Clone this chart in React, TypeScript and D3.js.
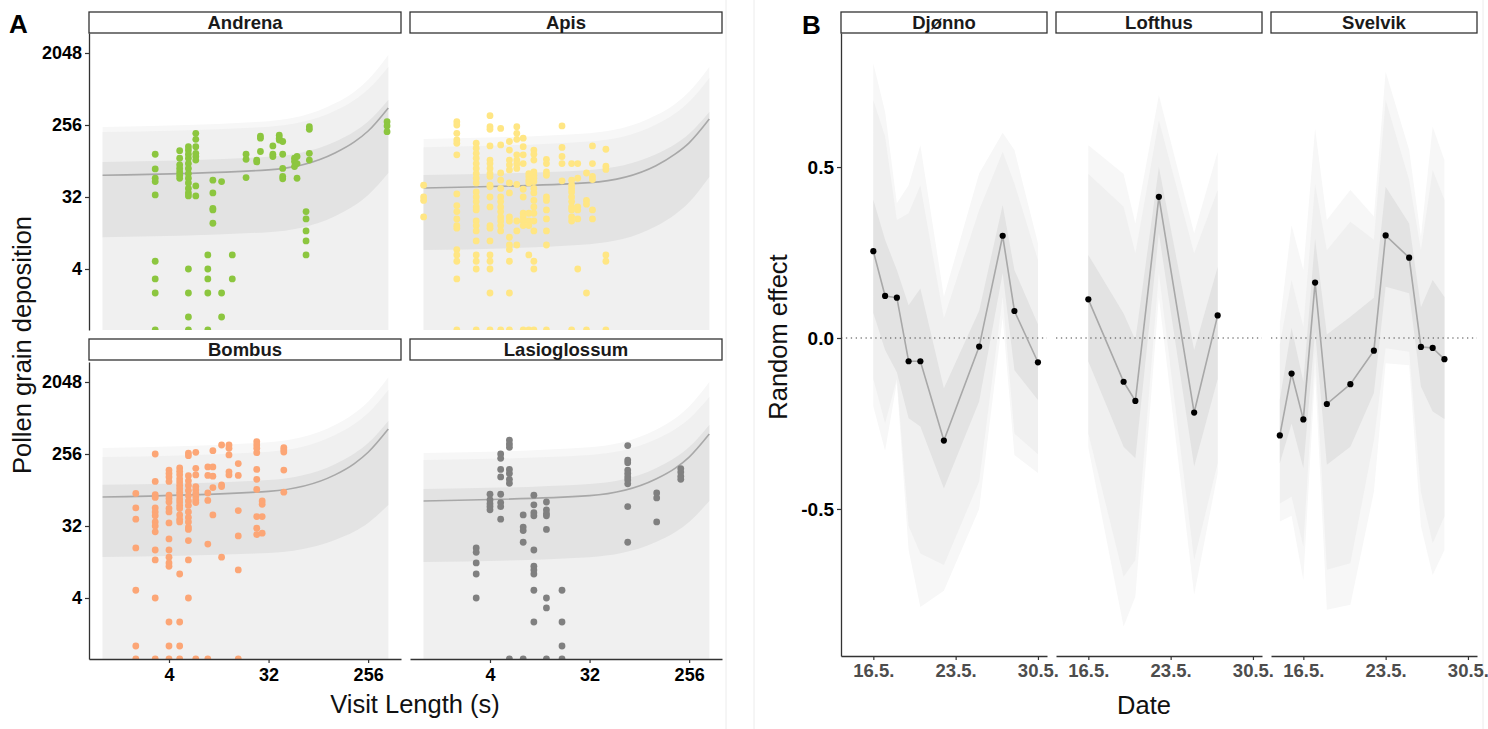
import React, { useEffect, useRef } from 'react';
import * as d3 from 'd3';

const WIDTH = 1488;
const HEIGHT = 729;
const FONT = '"Liberation Sans", Arial, Helvetica, sans-serif';

// ---------- Panel A: pollen deposition vs visit length ----------
const genera = ['Andrena', 'Apis', 'Bombus', 'Lasioglossum'];
const generaColors = ['#8cc63f', '#ffe684', '#fca676', '#808080'];

// [visit length (s), pollen grains of each visit]; 0 = no grains (sits on panel floor)
const andrenaPoints: [number, number[]][] = [
  [3, [110, 72, 55, 50, 34, 5, 3, 2, 0]],
  [5, [122, 98, 81, 73, 66, 60, 55]],
  [6, [137, 124, 110, 98, 84, 73, 63, 55, 48, 41, 36, 33, 4, 2, 1, 0]],
  [7, [201, 169, 137, 113, 103, 93, 44, 33]],
  [9, [6, 4, 3, 2, 0]],
  [10, [52, 36, 23, 22, 15]],
  [12, [50, 2, 1]],
  [15, [6, 3]],
  [20, [110, 95, 56]],
  [25, [93, 88]],
  [27, [186, 175, 119]],
  [35, [140, 110, 103]],
  [40, [191, 175, 166]],
  [43, [159, 110, 73, 58, 54]],
  [55, [98, 89, 77]],
  [58, [103, 84, 55]],
  [70, [21, 17, 12, 9, 6]],
  [75, [244, 226, 113, 93]],
  [380, [282, 249, 211]],
];
const apisPoints: [number, number[]][] = [
  [1, [45, 32, 29, 18]],
  [2, [282, 256, 201, 166, 151, 108, 35, 25, 21, 17, 14, 13, 7, 6, 5, 3, 0]],
  [3, [151, 131, 113, 98, 84, 73, 63, 55, 48, 37, 32, 28, 24, 22, 16, 14, 12, 9, 6, 5, 4, 0]],
  [4, [335, 244, 226, 140, 93, 84, 73, 63, 58, 45, 43, 32, 24, 14, 13, 9, 6, 5, 4, 2, 0]],
  [5, [232, 144, 64, 52, 41, 32, 28, 24, 21, 18, 16, 14, 12, 0]],
  [6, [159, 124, 93, 81, 70, 48, 36, 18, 16, 10, 8, 7, 5, 2, 0]],
  [7, [244, 201, 169, 108, 93, 83, 73, 46, 16, 12, 8]],
  [8, [175, 137, 108, 84, 40, 32, 20, 18, 16, 14, 0]],
  [9, [63, 58, 52, 48, 20, 16, 14, 6, 0]],
  [10, [124, 110, 93, 66, 60, 55, 50, 41, 36, 29, 24, 20, 16, 12, 5, 4, 0]],
  [13, [95, 84, 66, 60, 32, 29, 22, 17, 12, 8, 0]],
  [18, [249, 134, 103, 84, 51]],
  [22, [84, 52, 45, 41, 37, 32, 28, 24, 22, 18, 16, 0]],
  [25, [84, 55, 24, 22, 17, 4]],
  [30, [64, 29, 26, 2, 0]],
  [34, [140, 84, 58, 53, 22, 17]],
  [45, [127, 78, 71, 6, 5, 0]],
];
const bombusPoints: [number, number[]][] = [
  [2, [82, 54, 39, 17, 5, 1, 0]],
  [3, [256, 116, 79, 73, 54, 48, 43, 36, 32, 27, 16, 12, 4, 0]],
  [4, [161, 146, 132, 116, 78, 71, 64, 53, 48, 35, 22, 16, 13, 11, 10, 2, 1, 0]],
  [5, [171, 155, 141, 125, 114, 103, 94, 85, 78, 70, 64, 58, 53, 44, 39, 36, 8, 2, 1, 0]],
  [6, [263, 244, 137, 118, 103, 89, 77, 66, 58, 48, 41, 36, 31, 29, 21, 12, 4]],
  [7, [269, 169, 140, 100, 91, 82, 75, 68, 63, 0]],
  [9, [176, 138, 83, 67, 19, 0]],
  [10, [282, 176, 135, 97, 44]],
  [12, [332, 105, 100, 13]],
  [14, [332, 302, 249, 153, 140]],
  [17, [194, 138, 50, 24, 9, 0]],
  [25, [365, 332, 302, 266, 164, 123, 92, 42, 30, 25]],
  [28, [66, 60, 42, 26]],
  [44, [307, 288, 271, 161, 85]],
];
const lasioglossumPoints: [number, number[]][] = [
  [3, [17, 15, 11, 8, 4]],
  [4, [80, 68, 61, 56, 51]],
  [5, [256, 226, 164, 132, 80, 63, 56, 39]],
  [6, [383, 342, 311, 164, 146, 123, 110, 0]],
  [8, [44, 31, 28, 20, 0]],
  [10, [78, 59, 47, 43, 16, 10, 9, 8, 5, 2]],
  [13, [64, 51, 46, 43, 29, 4, 3, 0]],
  [18, [5, 2, 1, 0]],
  [71, [326, 215, 199, 161, 146, 132, 121, 108, 56, 20]],
  [130, [83, 72, 36]],
  [215, [168, 152, 135, 123]],
];

// model fit + interval ribbons, read at these visit lengths
const fitSeconds = [1, 32, 128, 192, 256, 390];
const ribbonFloor = 0.3; // outer ribbons run below the panel floor

const andrenaFit = [60, 70, 114, 157, 215, 419];
const andrenaInnerLo = [10, 11.6, 18.4, 25, 34, 64];
const andrenaInnerHi = [88, 102, 158, 212, 284, 526];
const andrenaMidHi = [209, 244, 385, 526, 719, 1370];
const andrenaOuterHi = [242, 286, 478, 671, 949, 1937];

const apisFit = [41.5, 48.5, 79, 111, 153, 304];
const apisInnerLo = [6.9, 8.2, 13.7, 19.4, 27.5, 57];
const apisInnerHi = [60.5, 70, 110, 148, 199, 372];
const apisMidHi = [135, 159, 260, 360, 501, 996];
const apisOuterHi = [171, 202, 338, 474, 671, 1370];

const bombusFit = [74, 87, 140, 194, 269, 526];
const bombusInnerLo = [13.1, 14.7, 21.4, 27.3, 35, 58.7];
const bombusInnerHi = [105, 121, 191, 260, 352, 664];
const bombusMidHi = [235, 274, 443, 609, 838, 1629];
const bombusOuterHi = [304, 360, 592, 832, 1160, 2353];

const lasioFit = [66, 77, 124, 170, 234, 455];
const lasioInnerLo = [11.3, 13, 20.1, 26.9, 36, 66];
const lasioInnerHi = [93, 108, 170, 231, 313, 592];
const lasioMidHi = [215, 249, 391, 526, 709, 1328];
const lasioOuterHi = [263, 311, 516, 719, 1010, 2048];

const visitTicks = [4, 32, 256];
const pollenTicks = [4, 32, 256, 2048];

// ---------- Panel B: random effect of date per site ----------
const sites = ['Djønno', 'Lofthus', 'Svelvik'];

const djonnoDays = [16, 17, 18, 19, 20, 22, 25, 27, 28, 30];
const djonnoEffect = [0.254, 0.123, 0.118, -0.068, -0.068, -0.3, -0.025, 0.299, 0.079, -0.071];
const djonnoInnerLo = [0.073, -0.035, -0.1, -0.235, -0.259, -0.44, -0.186, 0.19, -0.094, -0.181];
const djonnoInnerHi = [0.404, 0.287, 0.199, 0.096, 0.145, -0.147, 0.08, 0.389, 0.199, 0.04];
const djonnoMidLo = [-0.12, -0.25, -0.12, -0.55, -0.63, -0.664, -0.42, 0.12, -0.28, -0.34];
const djonnoMidHi = [0.696, 0.589, 0.345, 0.365, 0.447, 0.058, 0.374, 0.545, 0.452, 0.228];
const djonnoOuterLo = [-0.2, -0.33, -0.13, -0.62, -0.787, -0.739, -0.5, 0.06, -0.342, -0.395];
const djonnoOuterHi = [0.803, 0.662, 0.394, 0.447, 0.564, 0.121, 0.481, 0.6, 0.55, 0.277];

const lofthusDays = [16, 19, 20, 22, 25, 27];
const lofthusEffect = [0.113, -0.128, -0.184, 0.413, -0.218, 0.066];
const lofthusInnerLo = [-0.069, -0.318, -0.352, 0.306, -0.376, -0.12];
const lofthusInnerHi = [0.243, 0.072, -0.006, 0.5, -0.035, 0.208];
const lofthusMidLo = [-0.279, -0.698, -0.649, 0.19, -0.649, -0.366];
const lofthusMidHi = [0.48, 0.384, 0.248, 0.637, 0.248, 0.433];
const lofthusOuterLo = [-0.32, -0.844, -0.756, 0.12, -0.751, -0.396];
const lofthusOuterHi = [0.564, 0.48, 0.335, 0.71, 0.306, 0.545];

const svelvikDays = [14, 15, 16, 17, 18, 20, 22, 23, 25, 26, 27, 28];
const svelvikEffect = [-0.285, -0.104, -0.238, 0.162, -0.193, -0.135, -0.037, 0.3, 0.235, -0.026, -0.029, -0.062];
const svelvikInnerLo = [-0.366, -0.25, -0.38, 0.02, -0.371, -0.318, -0.161, 0.15, 0.131, -0.142, -0.215, -0.237];
const svelvikInnerHi = [-0.18, 0.03, -0.127, 0.29, 0.01, 0.062, 0.118, 0.442, 0.335, 0.09, 0.17, 0.12];
const svelvikMidLo = [-0.484, -0.464, -0.61, -0.04, -0.678, -0.659, -0.3, -0.03, -0.04, -0.45, -0.6, -0.522];
const svelvikMidHi = [-0.02, 0.17, 0.033, 0.45, 0.257, 0.34, 0.287, 0.696, 0.462, 0.257, 0.491, 0.404];
const svelvikOuterLo = [-0.537, -0.52, -0.708, -0.1, -0.795, -0.78, -0.45, -0.074, -0.08, -0.55, -0.693, -0.62];
const svelvikOuterHi = [0.043, 0.33, 0.199, 0.613, 0.345, 0.433, 0.355, 0.779, 0.55, 0.296, 0.618, 0.52];

const dayTicks = [16, 23, 30];
const effectTicks = [-0.5, 0, 0.5];

// layout
const A_COL_X = [89, 410];
const A_STRIP_Y = [12, 339];
const A_PANEL_Y = [33, 362];
const A_W = 312;
const A_H = 297;
const B_COL_X = [841, 1056, 1271];
const B_W = 206;
const B_TOP = 33;
const B_H = 623;
const STRIP_H = 21;

const RIBBON = { outer: '#f7f7f7', mid: '#f0f0f0', inner: '#e3e3e3' };

const App = () => {
  const ref = useRef<SVGSVGElement>(null);

  useEffect(() => {
    const svg = d3.select(ref.current);
    svg.selectAll('*').remove();
    svg.attr('font-family', FONT);

    // faint image borders between the two figures
    [726, 754, 1483].forEach(x => {
      svg.append('line').attr('x1', x).attr('x2', x).attr('y1', 0).attr('y2', HEIGHT)
        .attr('stroke', '#ececec').attr('stroke-width', 1);
    });

    const styleAxis = (g: any, color: string, size: number) => {
      g.select('.domain').attr('stroke', '#333').attr('stroke-width', 1.3);
      g.selectAll('.tick line').attr('stroke', '#333').attr('stroke-width', 1.2);
      g.selectAll('.tick text').attr('fill', color).attr('font-size', size)
        .attr('font-weight', 'bold').attr('font-family', FONT);
    };

    const strip = (x: number, y: number, w: number, label: string) => {
      svg.append('rect').attr('x', x).attr('y', y).attr('width', w).attr('height', STRIP_H)
        .attr('fill', '#fff').attr('stroke', '#333').attr('stroke-width', 1.3);
      svg.append('text').attr('x', x + w / 2).attr('y', y + STRIP_H / 2 + 6.5)
        .attr('text-anchor', 'middle').attr('font-size', 18.5).attr('font-weight', 'bold')
        .attr('fill', '#1a1a1a').text(label);
    };

    // ===== Panel A =====
    const xA = d3.scaleLog().base(2).domain([Math.pow(2, -0.41), Math.pow(2, 8.99)]).range([0, A_W]);
    const yA = d3.scaleLog().base(2).domain([Math.pow(2, -0.542), Math.pow(2, 11.833)]).range([A_H, 0]);

    const facetsA = [
      { points: andrenaPoints, fit: andrenaFit, innerLo: andrenaInnerLo, innerHi: andrenaInnerHi, midHi: andrenaMidHi, outerHi: andrenaOuterHi },
      { points: apisPoints, fit: apisFit, innerLo: apisInnerLo, innerHi: apisInnerHi, midHi: apisMidHi, outerHi: apisOuterHi },
      { points: bombusPoints, fit: bombusFit, innerLo: bombusInnerLo, innerHi: bombusInnerHi, midHi: bombusMidHi, outerHi: bombusOuterHi },
      { points: lasioglossumPoints, fit: lasioFit, innerLo: lasioInnerLo, innerHi: lasioInnerHi, midHi: lasioMidHi, outerHi: lasioOuterHi },
    ];

    const floor = fitSeconds.map(() => ribbonFloor);
    const bandA = (lo: number[], hi: number[]) => d3.area<number>()
      .x(d => xA(d))
      .y0((_, k) => yA(lo[k]))
      .y1((_, k) => yA(hi[k]))
      .curve(d3.curveMonotoneX)(fitSeconds);

    facetsA.forEach((f, i) => {
      const col = i % 2;
      const row = Math.floor(i / 2);
      const px = A_COL_X[col];
      const py = A_PANEL_Y[row];

      strip(px, A_STRIP_Y[row], A_W, genera[i]);

      const clipId = `clipA${i}`;
      svg.append('clipPath').attr('id', clipId).append('rect')
        .attr('width', A_W).attr('height', A_H);

      const g = svg.append('g').attr('transform', `translate(${px},${py})`);
      const body = g.append('g').attr('clip-path', `url(#${clipId})`);

      body.append('path').attr('d', bandA(floor, f.outerHi)).attr('fill', RIBBON.outer);
      body.append('path').attr('d', bandA(floor, f.midHi)).attr('fill', RIBBON.mid);
      body.append('path').attr('d', bandA(f.innerLo, f.innerHi)).attr('fill', RIBBON.inner);

      const line = d3.line<number>().x(d => xA(d)).y((_, k) => yA(f.fit[k])).curve(d3.curveMonotoneX);
      body.append('path').attr('d', line(fitSeconds)).attr('fill', 'none')
        .attr('stroke', '#a8a8a8').attr('stroke-width', 1.6);

      const flat = f.points.flatMap(([sec, counts]) => counts.map(c => ({ sec, c })));
      body.selectAll('circle').data(flat).enter().append('circle')
        .attr('cx', d => xA(d.sec))
        .attr('cy', d => (d.c > 0 ? yA(d.c) : A_H))
        .attr('r', 3.4)
        .attr('fill', generaColors[i]);

      if (col === 0) {
        const ax = g.append('g').call(
          d3.axisLeft(yA).tickValues(pollenTicks).tickFormat(d3.format('d')).tickSize(4).tickSizeOuter(0).tickPadding(3)
        );
        styleAxis(ax, '#000', 18);
      }
      if (row === 1) {
        const ax = g.append('g').attr('transform', `translate(0,${A_H})`).call(
          d3.axisBottom(xA).tickValues(visitTicks).tickFormat(d3.format('d')).tickSize(4).tickSizeOuter(0).tickPadding(5)
        );
        styleAxis(ax, '#000', 18);
      }
    });

    svg.append('text').attr('transform', `translate(31,345) rotate(-90)`)
      .attr('text-anchor', 'middle').attr('font-size', 25.5).attr('fill', '#111')
      .text('Pollen grain deposition');
    svg.append('text').attr('x', 415).attr('y', 713).attr('text-anchor', 'middle')
      .attr('font-size', 25.5).attr('fill', '#111').text('Visit Length (s)');
    svg.append('text').attr('x', 9).attr('y', 33).attr('font-size', 26)
      .attr('font-weight', 'bold').attr('fill', '#000').text('A');

    // ===== Panel B =====
    const xB = d3.scaleLinear().domain([13.25, 30.77]).range([0, B_W]);
    const yB = d3.scaleLinear().domain([-0.93, 0.892]).range([B_H, 0]);

    const facetsB = [
      { days: djonnoDays, eff: djonnoEffect, innerLo: djonnoInnerLo, innerHi: djonnoInnerHi, midLo: djonnoMidLo, midHi: djonnoMidHi, outerLo: djonnoOuterLo, outerHi: djonnoOuterHi },
      { days: lofthusDays, eff: lofthusEffect, innerLo: lofthusInnerLo, innerHi: lofthusInnerHi, midLo: lofthusMidLo, midHi: lofthusMidHi, outerLo: lofthusOuterLo, outerHi: lofthusOuterHi },
      { days: svelvikDays, eff: svelvikEffect, innerLo: svelvikInnerLo, innerHi: svelvikInnerHi, midLo: svelvikMidLo, midHi: svelvikMidHi, outerLo: svelvikOuterLo, outerHi: svelvikOuterHi },
    ];

    facetsB.forEach((f, i) => {
      const px = B_COL_X[i];
      strip(px, 12, B_W, sites[i]);

      const g = svg.append('g').attr('transform', `translate(${px},${B_TOP})`);
      const band = (lo: number[], hi: number[]) => d3.area<number>()
        .x(d => xB(d)).y0((_, k) => yB(lo[k])).y1((_, k) => yB(hi[k]))(f.days);

      g.append('path').attr('d', band(f.outerLo, f.outerHi)).attr('fill', RIBBON.outer);
      g.append('path').attr('d', band(f.midLo, f.midHi)).attr('fill', RIBBON.mid);
      g.append('path').attr('d', band(f.innerLo, f.innerHi)).attr('fill', RIBBON.inner);

      g.append('line').attr('x1', 0).attr('x2', B_W).attr('y1', yB(0)).attr('y2', yB(0))
        .attr('stroke', '#444').attr('stroke-width', 1.2).attr('stroke-dasharray', '1.3,3.6');

      const line = d3.line<number>().x(d => xB(d)).y((_, k) => yB(f.eff[k]));
      g.append('path').attr('d', line(f.days)).attr('fill', 'none')
        .attr('stroke', '#a8a8a8').attr('stroke-width', 1.6);

      g.selectAll('circle').data(f.days).enter().append('circle')
        .attr('cx', d => xB(d)).attr('cy', (_, k) => yB(f.eff[k])).attr('r', 3.1).attr('fill', '#000');

      const axb = g.append('g').attr('transform', `translate(0,${B_H})`).call(
        d3.axisBottom(xB).tickValues(dayTicks).tickFormat(d => `${d}.5.`).tickSize(4).tickSizeOuter(0).tickPadding(4)
      );
      styleAxis(axb, '#4d4d4d', 18.5);

      if (i === 0) {
        const axl = g.append('g').call(
          d3.axisLeft(yB).tickValues(effectTicks).tickFormat(d => (+d).toFixed(1)).tickSize(4).tickSizeOuter(0).tickPadding(3)
        );
        styleAxis(axl, '#000', 19);
      }
    });

    svg.append('text').attr('transform', `translate(787,337) rotate(-90)`)
      .attr('text-anchor', 'middle').attr('font-size', 25.5).attr('fill', '#111')
      .text('Random effect');
    svg.append('text').attr('x', 1144).attr('y', 714).attr('text-anchor', 'middle')
      .attr('font-size', 25.5).attr('fill', '#111').text('Date');
    svg.append('text').attr('x', 802).attr('y', 34).attr('font-size', 26)
      .attr('font-weight', 'bold').attr('fill', '#000').text('B');
  }, []);

  return (
    <svg ref={ref} width={WIDTH} height={HEIGHT}
      style={{ position: 'absolute', left: 0, top: 0, background: '#fff', display: 'block' }} />
  );
};

export default App;
